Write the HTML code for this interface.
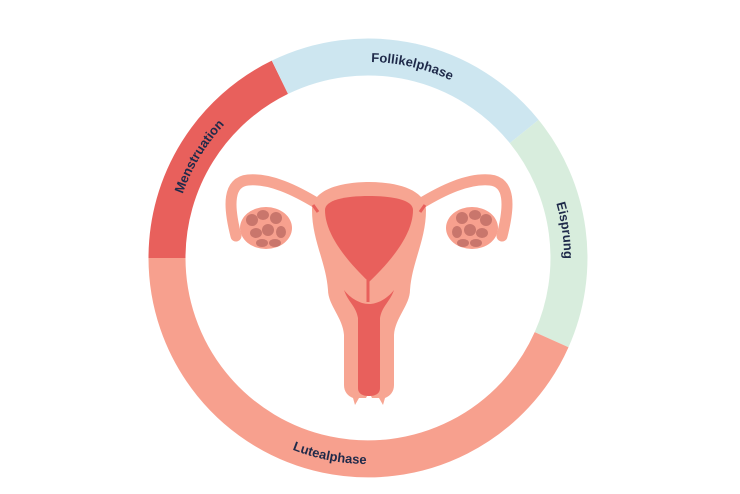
<!DOCTYPE html>
<html><head><meta charset="utf-8"><style>html,body{margin:0;padding:0;background:#fff;width:740px;height:494px;overflow:hidden}</style></head>
<body>
<svg width="740" height="494" viewBox="0 0 740 494" xmlns="http://www.w3.org/2000/svg">
<g fill="none" stroke-width="37">
<path d="M167,258 A201,201 0 0 1 279.9,77.3" stroke="#e8605c"/>
<path d="M279.9,77.3 A201,201 0 0 1 524.2,131.5" stroke="#cde6f0"/>
<path d="M524.2,131.5 A201,201 0 0 1 551.6,339.7" stroke="#d8eddd"/>
<path d="M551.6,339.7 A201,201 0 0 1 167,258" stroke="#f7a08e"/>
</g>
<defs>
<path id="pF" d="M264.1,91.8 A196,196 0 0 1 534.2,154.1"/>
<path id="pM" d="M177.8,305.4 A196,196 0 0 1 320.6,67.8"/>
<path id="pE" d="M486,101.5 A196,196 0 0 1 524.5,376"/>
<path id="pL" d="M197.2,373.2 A206,206 0 0 0 483.2,428.8"/>
</defs>
<g font-family="Liberation Sans, sans-serif" font-weight="bold" font-size="13" fill="#1f2a4a" text-anchor="middle">
<text><textPath href="#pF" startOffset="50%">Follikelphase</textPath></text>
<text><textPath href="#pM" startOffset="50%">Menstruation</textPath></text>
<text><textPath href="#pE" startOffset="50%">Eisprung</textPath></text>
<text><textPath href="#pL" startOffset="50%">Lutealphase</textPath></text>
</g>
<g fill="none" stroke="#f7a592" stroke-width="11" stroke-linecap="round">
<path d="M318,204 C295,190 270,178 248,180 C228,182 228,205 236,236"/>
<path d="M420,204 C443,190 468,178 490,180 C510,182 510,205 502,236"/>
</g>
<g fill="none" stroke="#fff" stroke-width="3">
<path d="M242,218 C246,208 260,204 272,205"/>
<path d="M496,218 C492,208 478,204 466,205"/>
</g>
<ellipse cx="266" cy="228" rx="26" ry="21" fill="#f7a08e"/>
<ellipse cx="472" cy="228" rx="26" ry="21" fill="#f7a08e"/>
<g fill="#c9766c">
<ellipse cx="252" cy="220" rx="6" ry="6"/><ellipse cx="263" cy="215" rx="6" ry="5"/><ellipse cx="276" cy="218" rx="6" ry="6"/>
<ellipse cx="256" cy="233" rx="6" ry="5"/><ellipse cx="268" cy="230" rx="6" ry="6"/><ellipse cx="281" cy="232" rx="5" ry="6"/>
<ellipse cx="262" cy="243" rx="6" ry="4"/><ellipse cx="275" cy="243" rx="6" ry="4"/>
<ellipse cx="486" cy="220" rx="6" ry="6"/><ellipse cx="475" cy="215" rx="6" ry="5"/><ellipse cx="462" cy="218" rx="6" ry="6"/>
<ellipse cx="482" cy="233" rx="6" ry="5"/><ellipse cx="470" cy="230" rx="6" ry="6"/><ellipse cx="457" cy="232" rx="5" ry="6"/>
<ellipse cx="476" cy="243" rx="6" ry="4"/><ellipse cx="463" cy="243" rx="6" ry="4"/>
</g>
<path d="M312,210 C312,190 340,182 369,182 C398,182 426,190 426,210 C426,240 412,262 410,290 C410,305 395,318 394,335 L394,385 C394,392 390,396 385,398 L383,405 L379,398 L372,398 L369,392 L366,398 L359,398 L355,405 L353,398 C348,396 344,392 344,385 L344,335 C343,318 328,305 328,290 C326,262 312,240 312,210 Z" fill="#f7a592"/>
<path d="M313,205 L318,212 M425,205 L420,212" stroke="#e8605c" stroke-width="3"/>
<path d="M325,210 C325,200 345,196 369,196 C393,196 413,200 413,210 C413,235 390,262 369,282 C348,262 325,235 325,210 Z" fill="#e8605c"/>
<path d="M368,280 L368,302" stroke="#e8605c" stroke-width="3"/>
<path d="M344,290 C348,302 356,306 358,318 L358,388 C358,394 363,396 369,396 C375,396 380,394 380,388 L380,318 C382,306 390,302 394,290 C388,298 378,304 369,304 C360,304 350,298 344,290 Z" fill="#e8605c"/>
</svg>
</body></html>
